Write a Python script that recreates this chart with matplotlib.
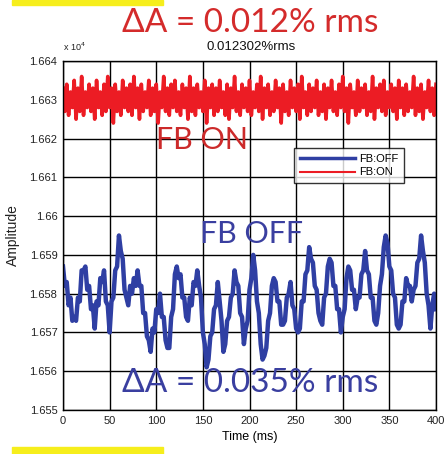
import numpy as np
import matplotlib
matplotlib.use("Agg")
import matplotlib.pyplot as plt
from matplotlib.patches import Rectangle

# sampling time (ms), one sample every 2 ms
time_ms = np.arange(0, 401, 2)

# FB:ON amplitude
fb_on = [
    16633, 16627, 16634, 16626, 16632, 16628, 16635, 16625, 16633, 16627, 16636, 16626, 16632, 16628, 16634, 16627, 16633, 16625, 16635, 16628,
    16632, 16626, 16634, 16627, 16636, 16628, 16633, 16624, 16634, 16627, 16632, 16626, 16635, 16628, 16633, 16627, 16634, 16626, 16636, 16628,
    16633, 16625, 16634, 16627, 16632, 16628, 16635, 16626, 16633, 16627, 16634, 16624, 16632, 16628, 16636, 16627, 16633, 16626, 16634, 16628,
    16635, 16627, 16632, 16626, 16634, 16628, 16633, 16625, 16636, 16627, 16633, 16626, 16634, 16628, 16632, 16627, 16635, 16624, 16633, 16628,
    16634, 16626, 16633, 16627, 16635, 16628, 16632, 16626, 16634, 16625, 16633, 16628, 16636, 16627, 16632, 16626, 16634, 16628, 16633, 16627,
    16635, 16626, 16632, 16628, 16634, 16627, 16636, 16625, 16633, 16628, 16634, 16626, 16632, 16627, 16635, 16628, 16633, 16624, 16634, 16627,
    16632, 16626, 16635, 16628, 16633, 16627, 16634, 16625, 16636, 16628, 16632, 16626, 16634, 16627, 16633, 16628, 16635, 16626, 16632, 16627,
    16634, 16625, 16633, 16628, 16635, 16627, 16632, 16626, 16634, 16628, 16636, 16627, 16633, 16624, 16634, 16628, 16632, 16626, 16635, 16627,
    16633, 16628, 16634, 16626, 16632, 16627, 16636, 16625, 16633, 16628, 16634, 16627, 16635, 16626, 16632, 16628, 16634, 16627, 16633, 16625,
    16635, 16628, 16633, 16626, 16634, 16627, 16632, 16628, 16636, 16626, 16633, 16627, 16634, 16625, 16632, 16628, 16635, 16627, 16633, 16626,
    16634,
]

# FB:OFF amplitude
fb_off = [
    16587, 16582, 16583, 16577, 16579, 16573, 16574,
    16573, 16579, 16578, 16586, 16586,
    16587, 16581, 16582, 16576, 16577, 16571,
    16578, 16577, 16584, 16583,
    16586, 16578, 16577, 16570,
    16578, 16579, 16586, 16587, 16595,
    16591, 16589, 16581, 16579,
    16577, 16582, 16580, 16584, 16582, 16586,
    16582, 16582, 16575, 16575, 16569, 16568,
    16565, 16571, 16570, 16576, 16575, 16580,
    16574, 16574, 16568, 16566,
    16566, 16574, 16576, 16585, 16587,
    16584, 16585, 16579, 16579, 16574,
    16573, 16579, 16577, 16583, 16582, 16586,
    16582, 16579, 16570, 16567, 16561,
    16563, 16569, 16570, 16576, 16577, 16583,
    16578, 16573, 16565,
    16567, 16573, 16574, 16579, 16580, 16586,
    16583, 16582, 16575, 16574, 16567,
    16571, 16573, 16581, 16584, 16590,
    16586, 16578, 16575, 16567, 16563,
    16564, 16566, 16573, 16575, 16582, 16584,
    16583, 16578, 16578, 16572, 16572,
    16573, 16579, 16580,
    16583, 16577, 16576, 16571, 16570,
    16571, 16578, 16578, 16585, 16586, 16592,
    16589, 16588, 16582, 16581, 16575, 16573,
    16572, 16579, 16580, 16587, 16589,
    16588, 16582, 16582, 16576, 16576, 16570,
    16574, 16576, 16584, 16587,
    16586, 16581, 16581, 16576,
    16579, 16579, 16585, 16586, 16591,
    16586, 16585, 16579, 16579, 16573, 16572,
    16575, 16582, 16585, 16592, 16595,
    16593, 16587, 16586, 16580, 16579, 16572, 16571,
    16572, 16578, 16578, 16584,
    16582, 16582, 16578,
    16581, 16582, 16588, 16589, 16595,
    16591, 16588, 16580, 16577, 16571,
    16577, 16580, 16576,
]

x_ticks = [0, 50, 100, 150, 200, 250, 300, 350, 400]
y_ticks = [16550, 16560, 16570, 16580, 16590, 16600, 16610, 16620, 16630, 16640]
y_tick_labels = ['1.655', '1.656', '1.657', '1.658', '1.659', '1.66', '1.661', '1.662', '1.663', '1.664']

big_font = ['Lato', 'DejaVu Sans']

fig = plt.figure(figsize=(4.45, 4.54), dpi=100)
fig.patch.set_facecolor('white')
ax = fig.add_axes([63 / 445, 44 / 454, 373 / 445, 349 / 454])

ax.plot(time_ms, fb_off, color='#2f3fa3', lw=3.2, label='FB:OFF')
ax.plot(time_ms, fb_on, color='#ec1c24', lw=2.6, label='FB:ON')

ax.set_xlim(0, 400)
ax.set_ylim(16550, 16640)
ax.set_xticks(x_ticks)
ax.set_yticks(y_ticks)
ax.set_yticklabels(y_tick_labels)
ax.tick_params(length=0, labelsize=8, pad=4, labelcolor='#222222')
for lab in ax.get_xticklabels() + ax.get_yticklabels():
    lab.set_family('Liberation Sans')
ax.grid(True, color='black', lw=1.0)
for s in ax.spines.values():
    s.set_color('black')
    s.set_linewidth(1.0)

ax.set_xlabel('Time (ms)', fontsize=9, family='Liberation Sans', labelpad=4)
fig.text(13 / 445, 1 - 235 / 454, 'Amplitude', rotation=90, fontsize=10,
         family='Liberation Sans', ha='center', va='center', color='#222222')

leg = ax.legend(loc='upper left', bbox_to_anchor=(231 / 373, 1 - 87 / 349),
                borderaxespad=0, frameon=True, fancybox=False, edgecolor='black',
                handlelength=5, borderpad=0.5, labelspacing=0.35, handletextpad=0.4,
                prop={'family': 'Liberation Sans', 'size': 8})
leg.get_frame().set_linewidth(1.0)
leg.get_lines()[0].set_linewidth(2.5)
leg.get_lines()[1].set_linewidth(1.5)

# titles / annotations
fig.text(251 / 445, 1 - 47 / 454, '0.012302%rms', fontsize=9.5, family='Liberation Sans',
         ha='center', va='center', color='#111111')
fig.text(63 / 445, 1 - 47 / 454, r'x 10$^4$', fontsize=6.5, family='Liberation Sans',
         ha='left', va='center', color='#222222')
fig.text(250 / 445, 1 - 23 / 454, 'ΔA = 0.012% rms', fontsize=24, family=big_font,
         ha='center', va='center', color='#d42b2b')
fig.text(202 / 445, 1 - 140 / 454, 'FB ON', fontsize=22, family=big_font,
         ha='center', va='center', color='#cc2a2a')
fig.text(251 / 445, 1 - 234 / 454, 'FB OFF', fontsize=22, family=big_font,
         ha='center', va='center', color='#3a3fa0')
fig.text(250 / 445, 1 - 383 / 454, 'ΔA = 0.035% rms', fontsize=24, family=big_font,
         ha='center', va='center', color='#3a3fa0')

# yellow strips at the top and bottom
fig.patches.append(Rectangle((12 / 445, 1 - 5 / 454), 151 / 445, 5 / 454,
                             transform=fig.transFigure, color='#f6ee1c', zorder=0))
fig.patches.append(Rectangle((12 / 445, 0), 151 / 445, 7 / 454,
                             transform=fig.transFigure, color='#f6ee1c', zorder=0))

fig.savefig('out.png', dpi=100)
